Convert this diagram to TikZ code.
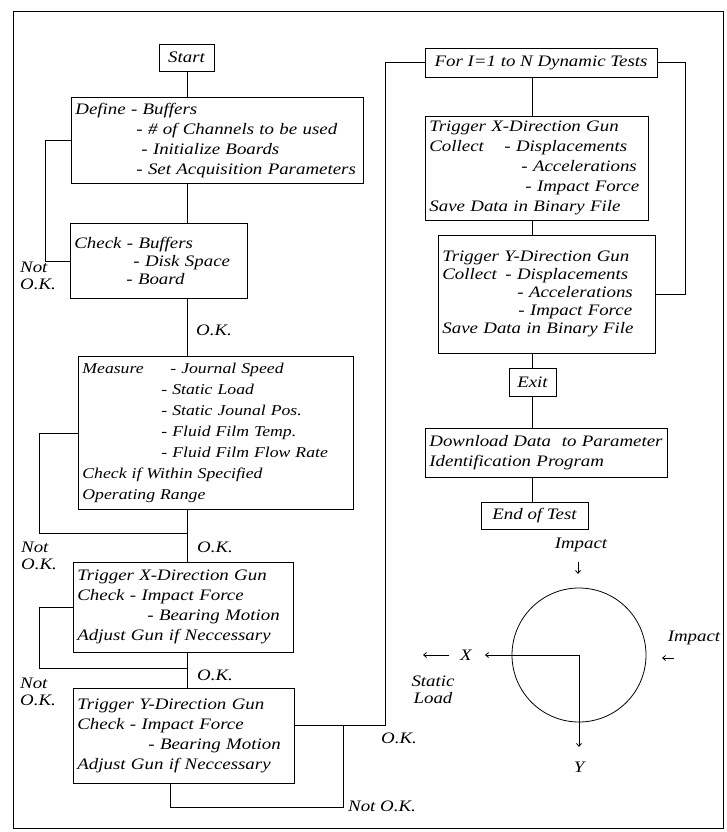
\documentclass[tikz,border=0pt]{standalone}
\usepackage{fontspec}
\setmainfont{Liberation Serif}[FakeStretch=1.18]
\usetikzlibrary{arrows.meta}
\newcommand{\flowfont}{\fontsize{16}{20}\selectfont\itshape}
\tikzset{
	flowbox/.style={draw,line width=0.8pt,inner xsep=4pt,inner ysep=2pt,align=left,font=\flowfont,anchor=north west},
	note/.style={font=\fontsize{16}{17}\selectfont\itshape,align=left,inner sep=0pt},
	link/.style={line width=0.8pt},
	tip/.style={line width=0.8pt,-{Straight Barb[length=3pt,width=5pt]}}
}
\begin{document}
\begin{tikzpicture}[x=1pt,y=-1pt]
	\useasboundingbox (0,0) rectangle (726,832);
	\draw[line width=1pt] (13,12) rectangle (723,828);
	
	% left column
	\node[flowbox,anchor=center,align=center,minimum width=55pt,minimum height=27pt] (start) at (186.5,57.5) {Start};
	\node[flowbox,text width=284pt,minimum height=86pt] (define) at (71,97) {Define - Buffers\\
		\hspace*{61pt}- \# of Channels to be used\\
		\hspace*{66pt}- Initialize Boards\\
		\hspace*{61pt}- Set Acquisition Parameters};
	\node[flowbox,text width=169pt,minimum height=75pt,font=\fontsize{16}{18}\selectfont\itshape] (check) at (70,223) {Check - Buffers\\
		\hspace*{59pt}- Disk Space\\
		\hspace*{52pt}- Board};
	\node[flowbox,text width=267pt,minimum height=153pt,font=\fontsize{15}{21}\selectfont\itshape] (measure) at (78,356) {\makebox[88pt][l]{Measure}- Journal Speed\\
		\hspace*{79pt}- Static Load\\
		\hspace*{79pt}- Static Jounal Pos.\\
		\hspace*{79pt}- Fluid Film Temp.\\
		\hspace*{79pt}- Fluid Film Flow Rate\\
		Check if Within Specified\\
		Operating Range};
	\node[flowbox,text width=212pt,minimum height=90pt] (trigx) at (73,562) {Trigger X-Direction Gun\\
		Check - Impact Force\\
		\hspace*{70pt}- Bearing Motion\\
		Adjust Gun if Neccessary};
	\node[flowbox,text width=213pt,minimum height=95pt] (trigy) at (73,688) {Trigger Y-Direction Gun\\
		Check - Impact Force\\
		\hspace*{71pt}- Bearing Motion\\
		Adjust Gun if Neccessary};
	
	% right column
	\node[flowbox,anchor=center,align=center,minimum width=232pt,minimum height=29pt] (for) at (541,62.5) {For I=1 to N Dynamic Tests};
	\node[flowbox,text width=215pt,minimum height=104pt] (tx2) at (425,116) {Trigger X-Direction Gun\\
		\makebox[75pt][l]{Collect}- Displacements\\
		\hspace*{92pt}- Accelerations\\
		\hspace*{96pt}- Impact Force\\
		Save Data in Binary File};
	\node[flowbox,text width=209pt,minimum height=118pt,font=\fontsize{16}{18}\selectfont\itshape] (ty2) at (438,235) {Trigger Y-Direction Gun\\
		\makebox[63pt][l]{Collect}- Displacements\\
		\hspace*{75pt}- Accelerations\\
		\hspace*{76pt}- Impact Force\\
		Save Data in Binary File};
	\node[flowbox,anchor=center,align=center,minimum width=47pt,minimum height=28pt] (exit) at (532.5,382) {Exit};
	\node[flowbox,text width=234pt,minimum height=49pt] (download) at (425,428) {Download Data~ to Parameter\\
		Identification Program};
	\node[flowbox,anchor=center,align=center,minimum width=107pt,minimum height=27pt] (end) at (534.5,515.5) {End of Test};
	
	% connectors
	\coordinate (spine) at (187.5,0);
	\coordinate (rspine) at (532,0);
	\coordinate (j1) at (187.5,533);
	\coordinate (j2) at (187.5,668);
	\coordinate (j3) at (343,725);
	\coordinate (j4) at (170,807);
	\draw[link] (spine |- start.south) -- (spine |- define.north);
	\draw[link] (spine |- define.south) -- (spine |- check.north);
	\draw[link] (spine |- check.south) -- (spine |- measure.north);
	\draw[link] (spine |- measure.south) -- (spine |- trigx.north);
	\draw[link] (spine |- trigx.south) -- (spine |- trigy.north);
	\draw[link] (check.west) -- ++(-25,0) |- (define.west);
	\draw[link] (measure.west) -- ++(-39,0) |- (j1);
	\draw[link] (trigx.west) -- ++(-34,0) |- (j2);
	\draw[link] (trigy.east |- j3) -- ++(91,0) |- (for.west);
	\draw[link] (j4 |- trigy.south) -- (j4) -| (j3);
	\draw[link] (ty2.east) -- ++(30,0) |- (for.east);
	\draw[link] (rspine |- for.south) -- (rspine |- tx2.north);
	\draw[link] (rspine |- tx2.south) -- (rspine |- ty2.north);
	\draw[link] (rspine |- ty2.south) -- (rspine |- exit.north);
	\draw[link] (rspine |- exit.south) -- (rspine |- download.north);
	\draw[link] (rspine |- download.south) -- (rspine |- end.north);
	
	\node[note] (ok1) at (214,330) {O.K.};
	\node[note,anchor=west] (nok1) at (20,276) {Not\\O.K.};
	\node[note] (ok2) at (215,547) {O.K.};
	\node[note,anchor=west] (nok2) at (21,556) {Not\\O.K.};
	\node[note] (ok3) at (215,675) {O.K.};
	\node[note,anchor=west] (nok3) at (20,692) {Not\\O.K.};
	\node[note] (ok4) at (399,738) {O.K.};
	\node[note,anchor=west] (nok4) at (348,806) {Not O.K.};
	
	% bearing sketch
	\node[draw,circle,line width=0.8pt,minimum size=134pt,inner sep=0pt] (bearing) at (579,655) {};
	\coordinate (xtip) at (485,655);
	\coordinate (ytip) at (579,747);
	\draw[tip] (bearing.center) -- (xtip);
	\draw[tip] (bearing.center) -- (ytip);
	\node[note] (xlab) at (466,655) {X};
	\node[note] (ylab) at (579,767) {Y};
	\node[note,align=center] (load) at (433,690) {Static\\Load};
	\coordinate (load1) at (449,655);
	\coordinate (load2) at (423,655);
	\draw[tip] (load1) -- (load2);
	\node[note] (imptop) at (581,545) {Impact};
	\coordinate (itop1) at (578,562);
	\coordinate (itop2) at (578,574);
	\draw[tip] (itop1) -- (itop2);
	\node[note] (impright) at (694,638) {Impact};
	\coordinate (iright1) at (674,658);
	\coordinate (iright2) at (662,658);
	\draw[tip] (iright1) -- (iright2);
\end{tikzpicture}
\end{document}
